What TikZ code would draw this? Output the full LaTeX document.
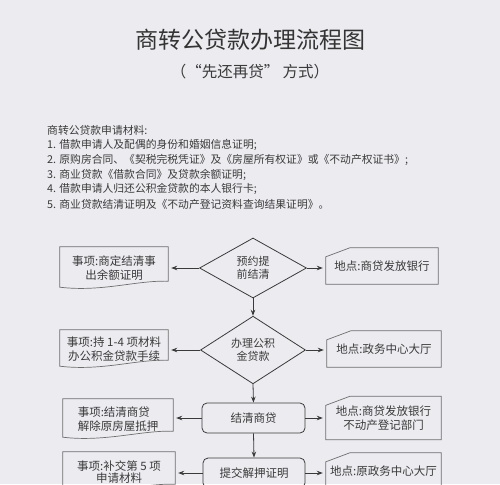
\documentclass[tikz,border=0pt]{standalone}
\usepackage{fontspec}
\setmainfont{Noto Sans CJK SC}
\usetikzlibrary{shapes.geometric,arrows.meta}
\definecolor{paper}{HTML}{ECEBF0}
\definecolor{ink}{HTML}{3A3A3A}
\definecolor{edge}{HTML}{6E6E6E}
\begin{document}
\begin{tikzpicture}[x=1pt,y=-1pt,
  boxline/.style={draw=edge, line width=0.7pt},
  sidebox/.style={rectangle, draw=none, text=ink, inner sep=0pt, align=center,
    font=\fontsize{11.5}{13.5}\selectfont},
  dia/.style={diamond, draw=ink, line width=0.8pt, text=ink, inner sep=0pt, align=center,
    font=\fontsize{11}{13.5}\selectfont},
  rbox/.style={rectangle, rounded corners=5pt, draw=ink, line width=0.8pt, text=ink,
    inner sep=0pt, minimum width=103pt, minimum height=30pt,
    font=\fontsize{11.5}{13.5}\selectfont},
  arr/.style={draw=ink, line width=0.8pt, -{Stealth[length=6pt,width=4.5pt]}},
  sarr/.style={arr, shorten >=3pt},
  listline/.style={anchor=west, text=ink, inner sep=0pt, font=\fontsize{10.8}{13}\selectfont}]
\useasboundingbox (0,0) rectangle (500,484);
\clip (0,0) rectangle (500,484);
\fill[paper] (0,0) rectangle (500,484);

% titles
\node[text=ink!90!black, inner sep=0pt, font=\fontsize{23}{26}\selectfont] (title) at (250,40) {商转公贷款办理流程图};
\node[text=ink, inner sep=0pt, font=\fontsize{15.5}{18}\selectfont] (subtitle) at (250,72) {（“先还再贷” 方式）};

% materials list
\node[listline] (m0) at (47,130) {商转公贷款申请材料:};
\node[listline] (m1) at (47,144.8) {1. 借款申请人及配偶的身份和婚姻信息证明;};
\node[listline] (m2) at (47,159.7) {2. 原购房合同、《契税完税凭证》及《房屋所有权证》或《不动产权证书》;};
\node[listline] (m3) at (47,174.5) {3. 商业贷款《借款合同》及贷款余额证明;};
\node[listline] (m4) at (47,189.4) {4. 借款申请人归还公积金贷款的本人银行卡;};
\node[listline] (m5) at (47,204.2) {5. 商业贷款结清证明及《不动产登记资料查询结果证明》。};

% centre column
\node[dia, minimum width=107pt, minimum height=60pt] (d1) at (253,268) {预约提\\前结清};
\node[dia, minimum width=105pt, minimum height=60pt] (d2) at (253,350) {办理公积\\金贷款};
\node[rbox] (c1) at (253.5,418) {结清商贷};
\node[rbox, minimum width=102pt] (c2) at (254,473) {提交解押证明};

% left boxes (document shape)
\node[sidebox, minimum width=108pt, minimum height=42pt] (L1) at (114,268) {事项:商定结清事\\出余额证明};
\node[sidebox, minimum width=108pt, minimum height=38pt] (L2) at (114,349) {事项:持 1-4 项材料\\办公积金贷款手续};
\node[sidebox, align=left, minimum width=110pt, minimum height=40pt] (L3) at (118,419) {事项:结清商贷\\解除原房屋抵押};
\node[sidebox, font=\fontsize{11.5}{12}\selectfont, minimum width=112pt, minimum height=40pt] (L4) at (119,472) {事项:补交第 5 项\\申请材料};

\foreach \n in {L1,L2,L3,L4}{
  \draw[boxline] (\n.north west) -- (\n.north east) -- ([yshift=8pt]\n.south east)
    .. controls ([xshift=-32pt,yshift=9pt]\n.south east) and ([xshift=42pt,yshift=-3pt]\n.south west)
    .. ([yshift=2pt]\n.south west) -- cycle;
}

% right boxes (cut corner card)
\node[sidebox, minimum width=112pt, minimum height=36pt] (R1) at (382,266) {地点:商贷发放银行};
\node[sidebox, minimum width=114pt, minimum height=36pt] (R2) at (384,349) {地点:政务中心大厅};
\node[sidebox, minimum width=115pt, minimum height=43pt] (R3) at (383.5,418) {地点:商贷发放银行\\不动产登记部门};
\node[sidebox, minimum width=115pt, minimum height=36pt] (R4) at (383.5,471) {地点:原政务中心大厅};

\foreach \n in {R1,R2,R3,R4}{
  \draw[boxline] ([yshift=-9pt]\n.north west) -- ([xshift=24pt]\n.north west) -- (\n.north east)
    -- (\n.south east) -- (\n.south west) -- cycle;
}

% vertical arrows
\draw[arr] (d1.south) -- (d2.north);
\draw[arr] (d2.south) -- (c1.north);
\draw[arr] (c1.south) -- (c2.north);

% side arrows
\draw[sarr] (d1.west) -- (d1.west -| L1.east);
\draw[sarr] (d1.east) -- (d1.east -| R1.west);
\draw[sarr] (d2.west) -- (d2.west -| L2.east);
\draw[sarr] (d2.east) -- (d2.east -| R2.west);
\draw[sarr] (c1.west) -- (c1.west -| L3.east);
\draw[sarr] (c1.east) -- (c1.east -| R3.west);
\draw[sarr] (c2.west) -- (c2.west -| L4.east);
\draw[sarr] (c2.east) -- (c2.east -| R4.west);
\end{tikzpicture}
\end{document}
